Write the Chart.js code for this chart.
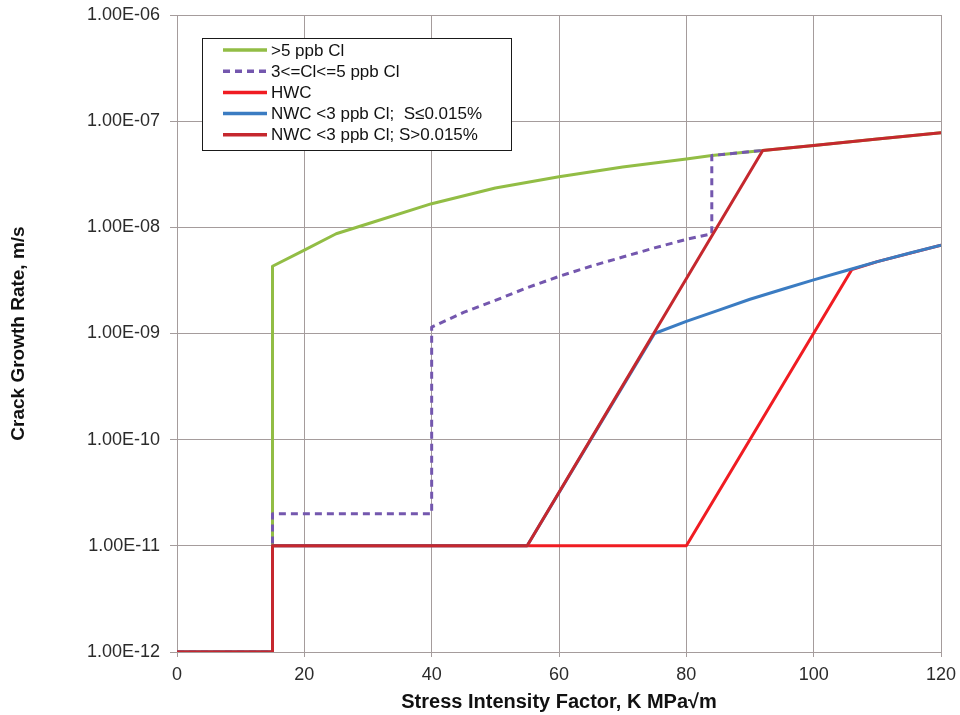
<!DOCTYPE html>
<html>
<head>
<meta charset="utf-8">
<script src="https://cdn.jsdelivr.net/npm/chart.js@4"></script>
<style>
  html, body { margin: 0; padding: 0; background: #ffffff; }
  #wrap { width: 960px; height: 715px; }
</style>
</head>
<body>
<div id="wrap"><canvas id="cgr" width="960" height="715"></canvas></div>
<script>
// Stress intensity factor K (MPa√m) and crack growth rate (m/s) for each disposition curve
const kHighCl    = [0, 15, 15, 20, 25, 30, 40, 50, 60, 70, 80, 84, 92, 100, 110, 120];
const rateHighCl = [1e-12, 1e-12, 4.3e-9, 6.1e-9, 8.7e-9, 1.08e-8, 1.67e-8, 2.35e-8, 3.0e-8, 3.7e-8, 4.4e-8, 4.75e-8, 5.3e-8, 5.9e-8, 6.8e-8, 7.8e-8];

const kMidCl    = [0, 15, 15, 40, 40, 45, 50, 55, 60, 65, 70, 75, 80, 84, 84, 92];
const rateMidCl = [1e-12, 1e-12, 2e-11, 2e-11, 1.15e-9, 1.58e-9, 2.05e-9, 2.7e-9, 3.45e-9, 4.3e-9, 5.25e-9, 6.4e-9, 7.7e-9, 8.7e-9, 4.75e-8, 5.3e-8];

const kHwc    = [0, 15, 15, 80, 106, 110, 120];
const rateHwc = [1e-12, 1e-12, 1e-11, 1e-11, 4.0e-9, 4.75e-9, 6.8e-9];

const kNwcLowS    = [0, 15, 15, 55, 75, 80, 85, 90, 95, 100, 105, 110, 115, 120];
const rateNwcLowS = [1e-12, 1e-12, 1e-11, 1e-11, 1.0e-9, 1.3e-9, 1.65e-9, 2.1e-9, 2.6e-9, 3.2e-9, 3.9e-9, 4.75e-9, 5.7e-9, 6.8e-9];

const kNwcHighS    = [0, 15, 15, 55, 92, 100, 110, 120];
const rateNwcHighS = [1e-12, 1e-12, 1e-11, 1e-11, 5.3e-8, 5.9e-8, 6.8e-8, 7.8e-8];

const seriesNames = [
  '>5 ppb Cl',
  '3<=Cl<=5 ppb Cl',
  'HWC',
  'NWC <3 ppb Cl;  S\u22640.015%',
  'NWC <3 ppb Cl; S>0.015%'
];

const xTickValues = [0, 20, 40, 60, 80, 100, 120];
const yTickValues = [1e-12, 1e-11, 1e-10, 1e-9, 1e-8, 1e-7, 1e-6];
const yTickLabels = ['1.00E-12', '1.00E-11', '1.00E-10', '1.00E-09', '1.00E-08', '1.00E-07', '1.00E-06'];

const FONT = '"Liberation Sans", Arial, Helvetica, sans-serif';
const GRID = '#a59c9c';

function points(ks, rates) {
  return ks.map((k, i) => ({ x: k, y: rates[i] }));
}

function curve(label, ks, rates, color, order, dash) {
  return {
    label: label,
    data: points(ks, rates),
    borderColor: color,
    backgroundColor: color,
    borderWidth: 3,
    borderDash: dash || [],
    borderJoinStyle: 'round',
    pointRadius: 0,
    pointHoverRadius: 0,
    tension: 0,
    fill: false,
    showLine: true,
    order: order
  };
}

const datasets = [
  curve(seriesNames[0], kHighCl, rateHighCl, '#92bd45', 5),
  curve(seriesNames[1], kMidCl, rateMidCl, '#7457ae', 4, [7, 5]),
  curve(seriesNames[2], kHwc, rateHwc, '#f01c22', 3),
  curve(seriesNames[3], kNwcLowS, rateNwcLowS, '#3b7cc2', 2),
  curve(seriesNames[4], kNwcHighS, rateNwcHighS, '#c5282e', 1)
];

// Boxed legend drawn inside the plot area, upper left
const insetLegend = {
  id: 'insetLegend',
  afterDraw(chart) {
    const ctx = chart.ctx;
    const bx = 202.5, by = 38.5, bw = 309, bh = 112;
    ctx.save();
    ctx.fillStyle = '#ffffff';
    ctx.fillRect(bx, by, bw, bh);
    ctx.strokeStyle = '#1a1a1a';
    ctx.lineWidth = 1;
    ctx.strokeRect(bx, by, bw, bh);
    ctx.font = '17px ' + FONT;
    ctx.textBaseline = 'middle';
    ctx.textAlign = 'left';
    const rowY0 = 50, rowGap = 21.2;
    chart.data.datasets.forEach((ds, i) => {
      const y = rowY0 + i * rowGap;
      ctx.beginPath();
      ctx.setLineDash(ds.borderDash || []);
      ctx.strokeStyle = ds.borderColor;
      ctx.lineWidth = 3.5;
      ctx.moveTo(223, y);
      ctx.lineTo(267, y);
      ctx.stroke();
      ctx.setLineDash([]);
      ctx.fillStyle = '#111111';
      ctx.fillText(ds.label, 271, y + 1);
    });
    ctx.restore();
  }
};

new Chart(document.getElementById('cgr'), {
  type: 'scatter',
  data: { datasets: datasets },
  plugins: [insetLegend],
  options: {
    responsive: false,
    devicePixelRatio: 1,
    animation: false,
    layout: { padding: { top: 15, right: 19, left: 0, bottom: 0 } },
    plugins: {
      legend: { display: false },
      tooltip: { enabled: false }
    },
    scales: {
      x: {
        type: 'linear',
        min: 0,
        max: 120,
        afterFit(scale) {
          scale.height = 63;
          scale.paddingLeft = 0;
          scale.paddingRight = 0;
        },
        afterBuildTicks(scale) { scale.ticks = xTickValues.map(v => ({ value: v })); },
        ticks: {
          padding: 7,
          color: '#2b2b2b',
          font: { family: FONT, size: 18 }
        },
        grid: { color: GRID, tickLength: 5, lineWidth: 1 },
        border: { color: GRID, width: 1 },
        title: {
          display: true,
          text: 'Stress Intensity Factor, K MPa\u221Am',
          color: '#111111',
          font: { family: FONT, size: 20, weight: 'bold' },
          padding: { top: 0, bottom: 1 }
        }
      },
      y: {
        type: 'logarithmic',
        min: 1e-12,
        max: 1e-6,
        afterFit(scale) {
          scale.width = 177;
          scale.paddingTop = 0;
          scale.paddingBottom = 0;
        },
        afterBuildTicks(scale) { scale.ticks = yTickValues.map(v => ({ value: v, major: true })); },
        ticks: {
          padding: 10,
          color: '#2b2b2b',
          font: { family: FONT, size: 18 },
          callback: (value, index) => yTickLabels[index]
        },
        grid: { color: GRID, tickLength: 7, lineWidth: 1 },
        border: { color: GRID, width: 1 },
        title: {
          display: true,
          text: 'Crack Growth Rate, m/s',
          color: '#111111',
          font: { family: FONT, size: 19, weight: 'bold' },
          padding: { top: 7, bottom: 0 }
        }
      }
    }
  }
});
</script>
</body>
</html>
